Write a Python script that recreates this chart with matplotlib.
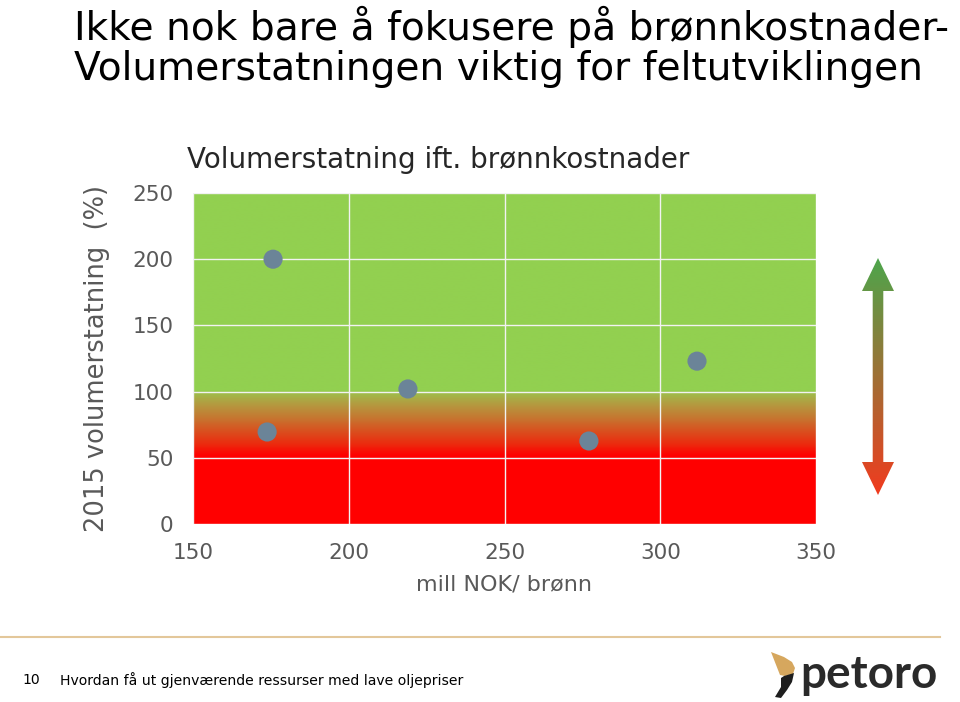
import numpy as np
import matplotlib.pyplot as plt
from matplotlib.colors import LinearSegmentedColormap
from matplotlib.patches import Polygon

# data
kost = [175.7, 173.8, 219.0, 277.1, 311.8]      # mill NOK / brønn
volum = [200, 69.5, 102, 62.7, 123]             # 2015 volumerstatning (%)
xticks = [150, 200, 250, 300, 350]
yticks = [0, 50, 100, 150, 200, 250]

title = "Ikke nok bare å fokusere på brønnkostnader-\nVolumerstatningen viktig for feltutviklingen"
subtitle = "Volumerstatning ift. brønnkostnader"
footer = "Hvordan få ut gjenværende ressurser med lave oljepriser"

W, H = 960, 702
fig = plt.figure(figsize=(W / 100, H / 100), dpi=100)
fig.patch.set_facecolor('white')

def fx(px):
    return px / W

def fy(py):
    return 1 - py / H

# main scatter axes
ax = fig.add_axes([fx(193), fy(524), fx(816) - fx(193), fy(193) - fy(524)])
ax.set_xlim(150, 350)
ax.set_ylim(0, 250)

bg = LinearSegmentedColormap.from_list('bg', [
    (0.0, '#FF0000'), (0.205, '#FF0000'), (0.24, '#EC2A0E'),
    (0.3, '#CF6428'), (0.36, '#B49A40'), (0.398, '#9EBF4C'),
    (0.402, '#92D050'), (1.0, '#92D050')])
grad = np.linspace(0, 1, 500).reshape(-1, 1)
ax.imshow(grad, cmap=bg, aspect='auto', origin='lower',
          extent=[150, 350, 0, 250], zorder=0, interpolation='bilinear')

ax.set_xticks(xticks)
ax.set_yticks(yticks)
ax.grid(True, color='#F2F2F2', linewidth=1.0, zorder=1)
ax.set_axisbelow(False)
for s in ax.spines.values():
    s.set_visible(False)
ax.tick_params(length=0, labelsize=15.5, labelcolor='#595959')
ax.tick_params(axis='y', pad=14)
ax.tick_params(axis='x', pad=14)

ax.scatter(kost, volum, s=190, color='#6B8498', zorder=3, edgecolors='none')

ax.set_xlabel('mill NOK/ brønn', fontsize=16, color='#595959')
ax.xaxis.set_label_coords(0.5, -(585 - 524) / (524 - 193))
ax.xaxis.label.set_va('center')
ax.set_ylabel('2015 volumerstatning  (%)', fontsize=18.5, color='#595959')
ax.yaxis.set_label_coords((110 - 193) / (816 - 193), 0.5)

fig.text(fx(187), fy(160), subtitle, fontsize=20, color='#262626', va='center', ha='left')
fig.text(fx(74), fy(47), title, fontsize=28.2, color='black', va='center', ha='left',
         linespacing=1.05)

# overlay axes in pixel coordinates for arrow, footer and logo
ov = fig.add_axes([0, 0, 1, 1], zorder=5)
ov.patch.set_alpha(0)

# gradient double arrow
arrow_pts = [(878, 258), (894, 291), (883.3, 291), (883.3, 462), (894, 462),
             (878, 495), (862, 462), (872.7, 462), (872.7, 291), (862, 291)]
arr = LinearSegmentedColormap.from_list('arr', ['#4CA64C', '#F23A1E'])
img = ov.imshow(np.linspace(0, 1, 300).reshape(-1, 1), cmap=arr, aspect='auto',
                extent=[860, 896, 497, 256], zorder=2)
clip = Polygon(arrow_pts, closed=True, transform=ov.transData, facecolor='none',
               edgecolor='none')
ov.add_patch(clip)
img.set_clip_path(clip)
ov.set_xlim(0, W)
ov.set_ylim(H, 0)
ov.axis('off')

# footer
ov.plot([0, 940], [637, 637], color='#E3C79A', linewidth=1.5)
ov.text(22, 680, '10', fontsize=10.1, color='black', va='center', ha='left')
ov.text(60, 680, footer, fontsize=10.1, color='black', va='center', ha='left')

# petoro logo
ov.add_patch(Polygon([(771, 652), (784, 657), (792, 662), (795, 668), (793, 674),
                      (785, 676), (780, 675)], closed=True,
                     facecolor='#D6A75E', edgecolor='none'))
ov.add_patch(Polygon([(784, 676), (794, 673), (792, 682), (787, 690), (781, 698),
                      (775, 697), (781, 687), (781, 678)],
                     closed=True, facecolor='#1E1E1E', edgecolor='none'))
ov.text(800, 675, 'petoro', fontsize=33, fontweight='bold', family='Lato',
        color='#2A2A2A', va='center', ha='left')

fig.savefig('out.png', dpi=100)
